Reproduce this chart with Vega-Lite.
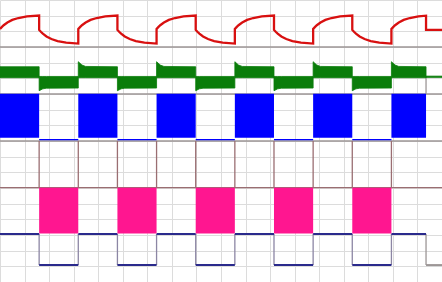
{
  "$schema": "https://vega.github.io/schema/vega-lite/v6.json",
  "width": 442,
  "height": 282,
  "autosize": {"type": "none"},
  "padding": 0,
  "background": "white",
  "config": {
    "view": {"stroke": null},
    "axis": {"grid": true, "gridColor": "#dcdcdc", "gridWidth": 1, "labels": false, "ticks": false, "domain": false, "tickCount": 18}
  },
  "datasets": {
    "seps": [{"v": 15, "k": "gray"}, {"v": 12, "k": "gray"}, {"v": 9, "k": "gray"}, {"v": 6.02, "k": "brown"}],
    "red": [
      {"t": 0, "v": 16.15}, {"t": 0.7, "v": 16.27}, {"t": 1.5, "v": 16.39}, {"t": 3, "v": 16.56}, {"t": 5, "v": 16.73}, {"t": 7.5, "v": 16.85}, {"t": 11, "v": 16.95}, {"t": 15.94, "v": 17.01},
      {"t": 15.94, "v": 16.09}, {"t": 16.64, "v": 15.97}, {"t": 17.44, "v": 15.85}, {"t": 18.94, "v": 15.67}, {"t": 20.94, "v": 15.51}, {"t": 23.44, "v": 15.38}, {"t": 26.94, "v": 15.28}, {"t": 31.88, "v": 15.22},
      {"t": 31.88, "v": 16.15}, {"t": 32.58, "v": 16.27}, {"t": 33.38, "v": 16.39}, {"t": 34.88, "v": 16.56}, {"t": 36.88, "v": 16.73}, {"t": 39.38, "v": 16.85}, {"t": 42.88, "v": 16.95}, {"t": 47.82, "v": 17.01},
      {"t": 47.82, "v": 16.09}, {"t": 48.52, "v": 15.97}, {"t": 49.32, "v": 15.85}, {"t": 50.82, "v": 15.67}, {"t": 52.82, "v": 15.51}, {"t": 55.32, "v": 15.38}, {"t": 58.82, "v": 15.28}, {"t": 63.76, "v": 15.22},
      {"t": 63.76, "v": 16.15}, {"t": 64.46, "v": 16.27}, {"t": 65.26, "v": 16.39}, {"t": 66.76, "v": 16.56}, {"t": 68.76, "v": 16.73}, {"t": 71.26, "v": 16.85}, {"t": 74.76, "v": 16.95}, {"t": 79.7, "v": 17.01},
      {"t": 79.7, "v": 16.09}, {"t": 80.4, "v": 15.97}, {"t": 81.2, "v": 15.85}, {"t": 82.7, "v": 15.67}, {"t": 84.7, "v": 15.51}, {"t": 87.2, "v": 15.38}, {"t": 90.7, "v": 15.28}, {"t": 95.64, "v": 15.22},
      {"t": 95.64, "v": 16.15}, {"t": 96.34, "v": 16.27}, {"t": 97.14, "v": 16.39}, {"t": 98.64, "v": 16.56}, {"t": 100.64, "v": 16.73}, {"t": 103.14, "v": 16.85}, {"t": 106.64, "v": 16.95}, {"t": 111.58, "v": 17.01},
      {"t": 111.58, "v": 16.09}, {"t": 112.28, "v": 15.97}, {"t": 113.08, "v": 15.85}, {"t": 114.58, "v": 15.67}, {"t": 116.58, "v": 15.51}, {"t": 119.08, "v": 15.38}, {"t": 122.58, "v": 15.28}, {"t": 127.52, "v": 15.22},
      {"t": 127.52, "v": 16.15}, {"t": 128.22, "v": 16.27}, {"t": 129.02, "v": 16.39}, {"t": 130.52, "v": 16.56}, {"t": 132.52, "v": 16.73}, {"t": 135.02, "v": 16.85}, {"t": 138.52, "v": 16.95}, {"t": 143.46, "v": 17.01},
      {"t": 143.46, "v": 16.09}, {"t": 144.16, "v": 15.97}, {"t": 144.96, "v": 15.85}, {"t": 146.46, "v": 15.67}, {"t": 148.46, "v": 15.51}, {"t": 150.96, "v": 15.38}, {"t": 154.46, "v": 15.28}, {"t": 159.4, "v": 15.22},
      {"t": 159.4, "v": 16.15}, {"t": 160.1, "v": 16.27}, {"t": 160.9, "v": 16.39}, {"t": 162.4, "v": 16.56}, {"t": 164.4, "v": 16.73}, {"t": 166.9, "v": 16.85}, {"t": 170.4, "v": 16.95}, {"t": 173.5, "v": 17.0},
      {"t": 173.5, "v": 16.09}, {"t": 180, "v": 16.09}
    ],
    "green": [
      {"g": 0, "t": 0, "top": 13.74, "bot": 13.04}, {"g": 0, "t": 15.94, "top": 13.74, "bot": 13.04},
      {"g": 1, "t": 15.94, "top": 13.12, "bot": 12.21}, {"g": 1, "t": 17.44, "top": 13.12, "bot": 12.33}, {"g": 1, "t": 18.94, "top": 13.12, "bot": 12.37}, {"g": 1, "t": 31.88, "top": 13.12, "bot": 12.38},
      {"g": 2, "t": 31.88, "top": 14.06, "bot": 13.04}, {"g": 2, "t": 33.38, "top": 13.85, "bot": 13.04}, {"g": 2, "t": 34.88, "top": 13.76, "bot": 13.04}, {"g": 2, "t": 47.82, "top": 13.74, "bot": 13.04},
      {"g": 3, "t": 47.82, "top": 13.12, "bot": 12.21}, {"g": 3, "t": 49.32, "top": 13.12, "bot": 12.33}, {"g": 3, "t": 50.82, "top": 13.12, "bot": 12.37}, {"g": 3, "t": 63.76, "top": 13.12, "bot": 12.38},
      {"g": 4, "t": 63.76, "top": 14.06, "bot": 13.04}, {"g": 4, "t": 65.26, "top": 13.85, "bot": 13.04}, {"g": 4, "t": 66.76, "top": 13.76, "bot": 13.04}, {"g": 4, "t": 79.7, "top": 13.74, "bot": 13.04},
      {"g": 5, "t": 79.7, "top": 13.12, "bot": 12.21}, {"g": 5, "t": 81.2, "top": 13.12, "bot": 12.33}, {"g": 5, "t": 82.7, "top": 13.12, "bot": 12.37}, {"g": 5, "t": 95.64, "top": 13.12, "bot": 12.38},
      {"g": 6, "t": 95.64, "top": 14.06, "bot": 13.04}, {"g": 6, "t": 97.14, "top": 13.85, "bot": 13.04}, {"g": 6, "t": 98.64, "top": 13.76, "bot": 13.04}, {"g": 6, "t": 111.58, "top": 13.74, "bot": 13.04},
      {"g": 7, "t": 111.58, "top": 13.12, "bot": 12.21}, {"g": 7, "t": 113.08, "top": 13.12, "bot": 12.33}, {"g": 7, "t": 114.58, "top": 13.12, "bot": 12.37}, {"g": 7, "t": 127.52, "top": 13.12, "bot": 12.38},
      {"g": 8, "t": 127.52, "top": 14.06, "bot": 13.04}, {"g": 8, "t": 129.02, "top": 13.85, "bot": 13.04}, {"g": 8, "t": 130.52, "top": 13.76, "bot": 13.04}, {"g": 8, "t": 143.46, "top": 13.74, "bot": 13.04},
      {"g": 9, "t": 143.46, "top": 13.12, "bot": 12.21}, {"g": 9, "t": 144.96, "top": 13.12, "bot": 12.33}, {"g": 9, "t": 146.46, "top": 13.12, "bot": 12.37}, {"g": 9, "t": 159.4, "top": 13.12, "bot": 12.38},
      {"g": 10, "t": 159.4, "top": 14.06, "bot": 13.04}, {"g": 10, "t": 160.9, "top": 13.85, "bot": 13.04}, {"g": 10, "t": 162.4, "top": 13.76, "bot": 13.04}, {"g": 10, "t": 173.5, "top": 13.74, "bot": 13.04},
      {"g": 11, "t": 173.5, "top": 13.14, "bot": 13.06}, {"g": 11, "t": 180, "top": 13.14, "bot": 13.06}
    ],
    "rects": [
      {"ch": "blue", "t0": 0, "t1": 15.94, "lo": 9.2, "hi": 12.02},
      {"ch": "blue", "t0": 31.88, "t1": 47.82, "lo": 9.2, "hi": 12.02},
      {"ch": "blue", "t0": 63.76, "t1": 79.7, "lo": 9.2, "hi": 12.02},
      {"ch": "blue", "t0": 95.64, "t1": 111.58, "lo": 9.2, "hi": 12.02},
      {"ch": "blue", "t0": 127.52, "t1": 143.46, "lo": 9.2, "hi": 12.02},
      {"ch": "blue", "t0": 159.4, "t1": 173.5, "lo": 9.2, "hi": 12.02},
      {"ch": "blue", "t0": 15.94, "t1": 31.88, "lo": 9.05, "hi": 9.13},
      {"ch": "blue", "t0": 47.82, "t1": 63.76, "lo": 9.05, "hi": 9.13},
      {"ch": "blue", "t0": 79.7, "t1": 95.64, "lo": 9.05, "hi": 9.13},
      {"ch": "blue", "t0": 111.58, "t1": 127.52, "lo": 9.05, "hi": 9.13},
      {"ch": "blue", "t0": 143.46, "t1": 159.4, "lo": 9.05, "hi": 9.13},
      {"ch": "pink", "t0": 15.94, "t1": 31.88, "lo": 3.1, "hi": 6.02},
      {"ch": "pink", "t0": 47.82, "t1": 63.76, "lo": 3.1, "hi": 6.02},
      {"ch": "pink", "t0": 79.7, "t1": 95.64, "lo": 3.1, "hi": 6.02},
      {"ch": "pink", "t0": 111.58, "t1": 127.52, "lo": 3.1, "hi": 6.02},
      {"ch": "pink", "t0": 143.46, "t1": 159.4, "lo": 3.1, "hi": 6.02}
    ],
    "edges": [
      {"k": "brown", "t": 15.94, "a": 6.02, "b": 9}, {"k": "brown", "t": 31.88, "a": 6.02, "b": 9}, {"k": "brown", "t": 47.82, "a": 6.02, "b": 9},
      {"k": "brown", "t": 63.76, "a": 6.02, "b": 9}, {"k": "brown", "t": 79.7, "a": 6.02, "b": 9}, {"k": "brown", "t": 95.64, "a": 6.02, "b": 9},
      {"k": "brown", "t": 111.58, "a": 6.02, "b": 9}, {"k": "brown", "t": 127.52, "a": 6.02, "b": 9}, {"k": "brown", "t": 143.46, "a": 6.02, "b": 9},
      {"k": "brown", "t": 159.4, "a": 6.02, "b": 9},
      {"k": "lav", "t": 15.94, "a": 1.08, "b": 3.06}, {"k": "lav", "t": 31.88, "a": 1.08, "b": 3.06}, {"k": "lav", "t": 47.82, "a": 1.08, "b": 3.06},
      {"k": "lav", "t": 63.76, "a": 1.08, "b": 3.06}, {"k": "lav", "t": 79.7, "a": 1.08, "b": 3.06}, {"k": "lav", "t": 95.64, "a": 1.08, "b": 3.06},
      {"k": "lav", "t": 111.58, "a": 1.08, "b": 3.06}, {"k": "lav", "t": 127.52, "a": 1.08, "b": 3.06}, {"k": "lav", "t": 143.46, "a": 1.08, "b": 3.06},
      {"k": "lav", "t": 159.4, "a": 1.08, "b": 3.06}, {"k": "gray", "t": 173.5, "a": 1.08, "b": 3.06},
      {"k": "gray", "t": 173.5, "a": 12, "b": 13.1}
    ],
    "navy": [
      {"k": "navy", "t0": 0, "t1": 15.94, "v": 3.06},
      {"k": "navy", "t0": 15.94, "t1": 31.88, "v": 1.08},
      {"k": "navy", "t0": 31.88, "t1": 47.82, "v": 3.06},
      {"k": "navy", "t0": 47.82, "t1": 63.76, "v": 1.08},
      {"k": "navy", "t0": 63.76, "t1": 79.7, "v": 3.06},
      {"k": "navy", "t0": 79.7, "t1": 95.64, "v": 1.08},
      {"k": "navy", "t0": 95.64, "t1": 111.58, "v": 3.06},
      {"k": "navy", "t0": 111.58, "t1": 127.52, "v": 1.08},
      {"k": "navy", "t0": 127.52, "t1": 143.46, "v": 3.06},
      {"k": "navy", "t0": 143.46, "t1": 159.4, "v": 1.08},
      {"k": "navy", "t0": 159.4, "t1": 173.5, "v": 3.06},
      {"k": "gray", "t0": 173.5, "t1": 180, "v": 1.08}
    ]
  },
  "layer": [
    {
      "data": {"name": "seps"},
      "mark": {"type": "rule", "strokeWidth": 1.3},
      "encoding": {
        "y": {"field": "v", "type": "quantitative", "scale": {"domain": [0, 18], "nice": false, "zero": false}, "axis": {"title": null}},
        "color": {"field": "k", "type": "nominal", "legend": null, "scale": {"domain": ["gray", "brown", "lav", "navy"], "range": ["#9c9696", "#9a6e72", "#8c86a4", "#2a2a8c"]}}
      }
    },
    {
      "data": {"name": "edges"},
      "mark": {"type": "rule", "strokeWidth": 1.3},
      "encoding": {
        "x": {"field": "t", "type": "quantitative", "scale": {"domain": [0, 180], "nice": false, "zero": false}, "axis": {"title": null}},
        "y": {"field": "a", "type": "quantitative"},
        "y2": {"field": "b"},
        "color": {"field": "k", "type": "nominal", "legend": null}
      }
    },
    {
      "data": {"name": "navy"},
      "mark": {"type": "rule", "strokeWidth": 2},
      "encoding": {
        "x": {"field": "t0", "type": "quantitative"},
        "x2": {"field": "t1"},
        "y": {"field": "v", "type": "quantitative"},
        "color": {"field": "k", "type": "nominal", "legend": null}
      }
    },
    {
      "data": {"name": "rects"},
      "mark": {"type": "rect"},
      "encoding": {
        "x": {"field": "t0", "type": "quantitative"},
        "x2": {"field": "t1"},
        "y": {"field": "lo", "type": "quantitative"},
        "y2": {"field": "hi"},
        "fill": {"field": "ch", "type": "nominal", "legend": null, "scale": {"domain": ["blue", "pink"], "range": ["#0000ff", "#ff1690"]}}
      }
    },
    {
      "data": {"name": "green"},
      "mark": {"type": "area", "color": "#0a7d0a", "stroke": "#0a7d0a", "strokeWidth": 0.8},
      "encoding": {
        "x": {"field": "t", "type": "quantitative"},
        "y": {"field": "bot", "type": "quantitative"},
        "y2": {"field": "top"},
        "detail": {"field": "g", "type": "nominal"}
      }
    },
    {
      "data": {"name": "red"},
      "mark": {"type": "line", "color": "#d81010", "strokeWidth": 2.3},
      "encoding": {
        "x": {"field": "t", "type": "quantitative"},
        "y": {"field": "v", "type": "quantitative"},
        "order": {"value": null}
      }
    }
  ]
}
